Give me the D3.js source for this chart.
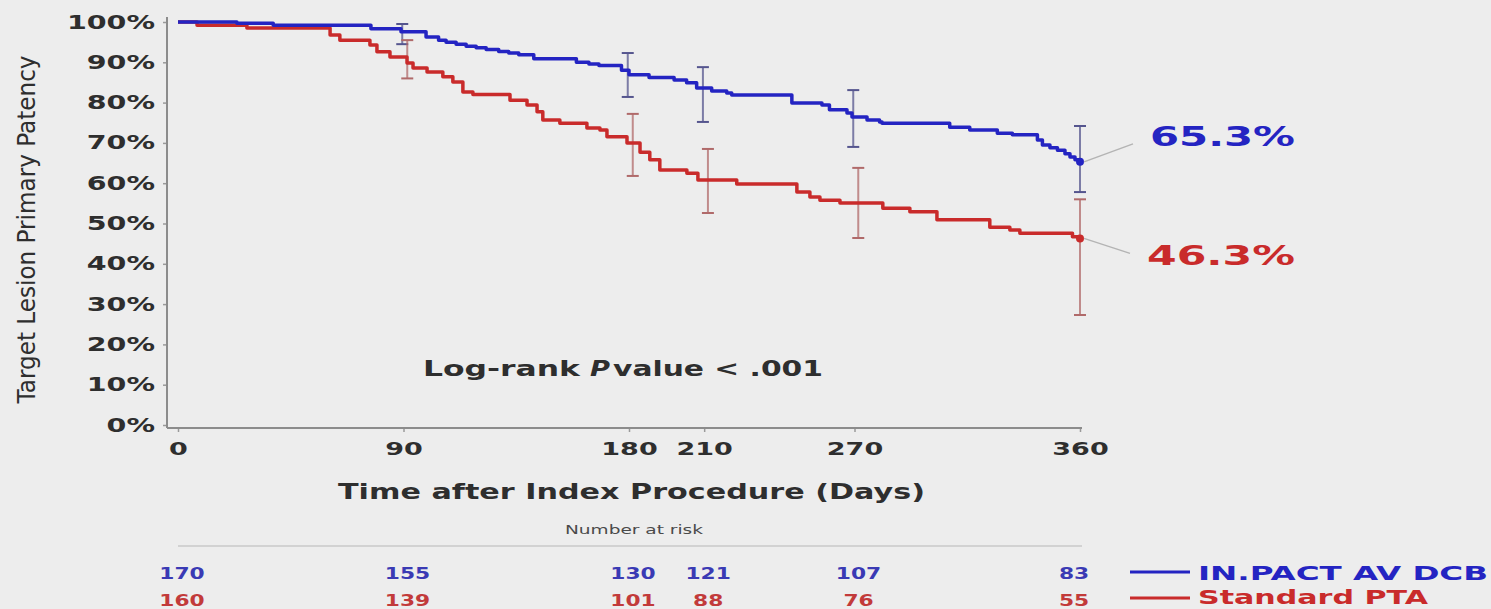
<!DOCTYPE html>
<html>
<head>
<meta charset="utf-8">
<script src="https://cdn.jsdelivr.net/npm/d3@7"></script>
<style>
  html, body { margin: 0; padding: 0; background: #ededed; }
  svg { display: block; font-family: "DejaVu Sans", Verdana, sans-serif; }
</style>
</head>
<body>
<svg id="chart" width="1491" height="609"></svg>
<script>
// ---- data ----
const dayTicks = [0, 90, 180, 210, 270, 360];
const pctTicks = [0, 10, 20, 30, 40, 50, 60, 70, 80, 90, 100];

// Kaplan-Meier step points: [day, % event-free]
const dcbCurve = [
  [0, 100], [23.5, 99.7], [38, 99.2], [77, 98.3], [89, 97.6], [99, 96.3],
  [104, 95.5], [107, 95.0], [111, 94.5], [115, 94.0], [119, 93.6], [123, 93.2],
  [128, 92.7], [132, 92.3], [136, 91.9], [142, 90.9], [159, 90.0], [164, 89.6],
  [168, 89.2], [177, 88.0], [180, 86.9], [188, 86.2], [198, 85.6], [203, 84.9],
  [207, 83.6], [213, 82.9], [219, 82.4], [221, 81.9], [245, 79.9], [257, 79.4],
  [260, 78.2], [267, 77.4], [269, 76.4], [275, 75.7], [280, 75.2], [281, 74.9],
  [308, 73.9], [316, 73.2], [327, 72.4], [333, 72.0], [343, 70.7], [345, 69.5],
  [348, 68.8], [351, 68.2], [354, 67.3], [356, 66.5], [358, 65.8], [360, 65.3]
];
const ptaCurve = [
  [0, 100], [7.6, 99.2], [27.5, 98.5], [60.7, 96.8], [64.6, 95.5], [76.6, 94.3],
  [79.4, 92.6], [84.6, 91.3], [91.4, 89.8], [93.8, 88.6], [99.4, 87.6], [105.7, 86.4],
  [109.7, 85.1], [113.7, 82.6], [117.7, 82.0], [132.5, 80.6], [139.3, 79.4],
  [143.3, 77.7], [145.6, 75.7], [152.4, 74.9], [163.2, 73.7], [168.4, 73.2],
  [171.2, 71.5], [179.2, 70.0], [184.4, 67.7], [188.3, 65.8], [192.3, 63.3],
  [203.1, 62.5], [207.5, 60.8], [223, 59.8], [247, 57.8], [252.2, 56.6],
  [256.2, 55.8], [264.2, 55.1], [281.3, 53.8], [292.1, 52.9], [302.9, 50.9],
  [324, 49.1], [332, 48.4], [336, 47.6], [357, 46.7], [360, 46.3]
];

// 95% confidence intervals: [day, upper %, lower %]
const dcbCI = [[89.5, 99.5, 94.5], [179.5, 92.3, 81.4], [209.5, 88.8, 75.2], [269.5, 83.1, 69.0], [360, 74.2, 57.8]];
const ptaCI = [[91.5, 95.5, 86.0], [181.5, 77.2, 61.8], [211.5, 68.5, 52.6], [271.5, 63.8, 46.4], [360, 56.0, 27.3]];

const dcbAtRisk = [170, 155, 130, 121, 107, 83];
const ptaAtRisk = [160, 139, 101, 88, 76, 55];

const finalDay = 360;
const dcbFinal = 65.3;
const ptaFinal = 46.3;

const groupNames = ["IN.PACT AV DCB", "Standard PTA"];

// ---- styling ----
const BLUE = "#2424c2";
const RED = "#c92b2b";
const BLUE_NUM = "#3a3ab4";
const RED_NUM = "#c23a3a";
const INK = "#2e2e2e";
const SX = 1.5; // wide lettering

const svg = d3.select("#chart");

const x = d3.scaleLinear().domain([0, 360]).range([178, 1080]);
const y = d3.scaleLinear().domain([0, 100]).range([425, 22]);
const axisX = 167;   // y-axis line position
const axisY = 428;   // x-axis line position

// text helper: fixed width via textLength
function label(txt, left, base, width, size, opts = {}) {
  return svg.append("text")
    .attr("x", left).attr("y", base)
    .attr("textLength", width)
    .attr("lengthAdjust", "spacingAndGlyphs")
    .attr("font-size", size)
    .attr("font-weight", opts.weight || "bold")
    .attr("font-style", opts.style || "normal")
    .attr("fill", opts.fill || INK)
    .text(txt);
}

// ---- axes ----
const yAxis = svg.append("g")
  .attr("transform", `translate(${axisX},0)`)
  .call(d3.axisLeft(y).tickValues(pctTicks).tickFormat(d => d + "%").tickSize(4).tickPadding(4).tickSizeOuter(0));
yAxis.select(".domain").remove();
yAxis.selectAll(".tick line").attr("stroke", "#9a9a9a").attr("stroke-width", 1.5);
yAxis.selectAll(".tick text")
  .attr("font-size", 19).attr("font-weight", "bold").attr("fill", INK)
  .attr("font-family", "DejaVu Sans, sans-serif")
  .attr("transform", `scale(${SX},1)`);

const xAxis = svg.append("g")
  .attr("transform", `translate(0,${axisY})`)
  .call(d3.axisBottom(x).tickValues(dayTicks).tickSize(4).tickPadding(10).tickSizeOuter(0));
xAxis.select(".domain").remove();
xAxis.selectAll(".tick line").attr("stroke", "#9a9a9a").attr("stroke-width", 1.5);
xAxis.selectAll(".tick text")
  .attr("font-size", 18).attr("font-weight", "bold").attr("fill", INK)
  .attr("font-family", "DejaVu Sans, sans-serif")
  .attr("transform", `scale(${SX},1)`);

// axis lines
svg.append("line")
  .attr("x1", axisX).attr("x2", axisX)
  .attr("y1", y(100) - 5).attr("y2", axisY)
  .attr("stroke", "#8c8c8c").attr("stroke-width", 2);
svg.append("line")
  .attr("x1", axisX).attr("x2", x(360) + 2)
  .attr("y1", axisY).attr("y2", axisY)
  .attr("stroke", "#8c8c8c").attr("stroke-width", 2);

// y-axis title (rotated, stretched across)
svg.append("text")
  .attr("transform", `translate(35,${(y(100) + y(0)) / 2 + 6}) rotate(-90) scale(1,${SX})`)
  .attr("x", -174).attr("y", 0)
  .attr("textLength", 348).attr("lengthAdjust", "spacingAndGlyphs")
  .attr("font-size", 17).attr("fill", INK)
  .text("Target Lesion Primary Patency");

// x-axis title
label("Time after Index Procedure (Days)", 338, 499, 587, 21);

// ---- confidence intervals ----
function drawCI(data, color) {
  const g = svg.append("g").attr("stroke", color).attr("stroke-width", 2).attr("fill", "none");
  data.forEach(([d, hi, lo]) => {
    const cx = x(d);
    g.append("line").attr("x1", cx).attr("x2", cx).attr("y1", y(hi)).attr("y2", y(lo)).attr("stroke-opacity", 0.75);
    g.append("line").attr("x1", cx - 6).attr("x2", cx + 6).attr("y1", y(hi)).attr("y2", y(hi));
    g.append("line").attr("x1", cx - 6).attr("x2", cx + 6).attr("y1", y(lo)).attr("y2", y(lo));
  });
}
drawCI(dcbCI, "#55558e");
drawCI(ptaCI, "#b06a6a");

// ---- survival curves ----
const line = d3.line().x(d => x(d[0])).y(d => y(d[1])).curve(d3.curveStepAfter);
svg.append("path").datum(ptaCurve).attr("d", line)
  .attr("fill", "none").attr("stroke", RED).attr("stroke-width", 3.5).attr("stroke-linejoin", "round");
svg.append("path").datum(dcbCurve).attr("d", line)
  .attr("fill", "none").attr("stroke", BLUE).attr("stroke-width", 3.5).attr("stroke-linejoin", "round");

svg.append("circle").attr("cx", x(finalDay)).attr("cy", y(dcbFinal)).attr("r", 4).attr("fill", BLUE);
svg.append("circle").attr("cx", x(finalDay)).attr("cy", y(ptaFinal)).attr("r", 4).attr("fill", RED);

// ---- end-point callouts ----
svg.append("line")
  .attr("x1", x(finalDay) + 4).attr("y1", y(dcbFinal))
  .attr("x2", x(finalDay) + 53).attr("y2", y(dcbFinal) - 18)
  .attr("stroke", "#b4b4b4").attr("stroke-width", 1.5);
svg.append("line")
  .attr("x1", x(finalDay) + 4).attr("y1", y(ptaFinal))
  .attr("x2", x(finalDay) + 50).attr("y2", y(ptaFinal) + 15)
  .attr("stroke", "#b4b4b4").attr("stroke-width", 1.5);
label(dcbFinal.toFixed(1) + "%", x(finalDay) + 70, y(dcbFinal) - 16, 145, 26, { fill: BLUE });
label(ptaFinal.toFixed(1) + "%", x(finalDay) + 67, y(ptaFinal) + 27, 148, 26, { fill: RED });

// ---- log-rank annotation ----
label("Log-rank", 423, 376, 157, 21);
label("P", 590, 376, 20, 21, { style: "italic" });
label("value < .001", 613, 376, 210, 21);

// ---- number at risk table ----
label("Number at risk", 565, 534, 138, 13, { weight: "normal", fill: "#4a4a4a" });
svg.append("line")
  .attr("x1", x(0)).attr("x2", x(360) + 2)
  .attr("y1", 546).attr("y2", 546)
  .attr("stroke", "#c8c8c8").attr("stroke-width", 1.5);

function riskRow(values, base, color) {
  svg.append("g").selectAll("text").data(values).join("text")
    .attr("transform", (v, i) => `translate(${x(dayTicks[i]) + (i === values.length - 1 ? -6 : 4)},${base}) scale(1.45,1)`)
    .attr("text-anchor", "middle")
    .attr("font-size", 15).attr("font-weight", "bold")
    .attr("fill", color)
    .text(v => v);
}
riskRow(dcbAtRisk, 579, BLUE_NUM);
riskRow(ptaAtRisk, 606, RED_NUM);

// ---- legend ----
svg.append("line").attr("x1", 1130).attr("x2", 1190).attr("y1", 572).attr("y2", 572)
  .attr("stroke", BLUE).attr("stroke-width", 3);
svg.append("line").attr("x1", 1130).attr("x2", 1190).attr("y1", 598).attr("y2", 598)
  .attr("stroke", RED).attr("stroke-width", 3);
label(groupNames[0], 1198, 580, 290, 20, { fill: BLUE });
label(groupNames[1], 1198, 604, 230, 20, { fill: RED });
</script>
</body>
</html>
